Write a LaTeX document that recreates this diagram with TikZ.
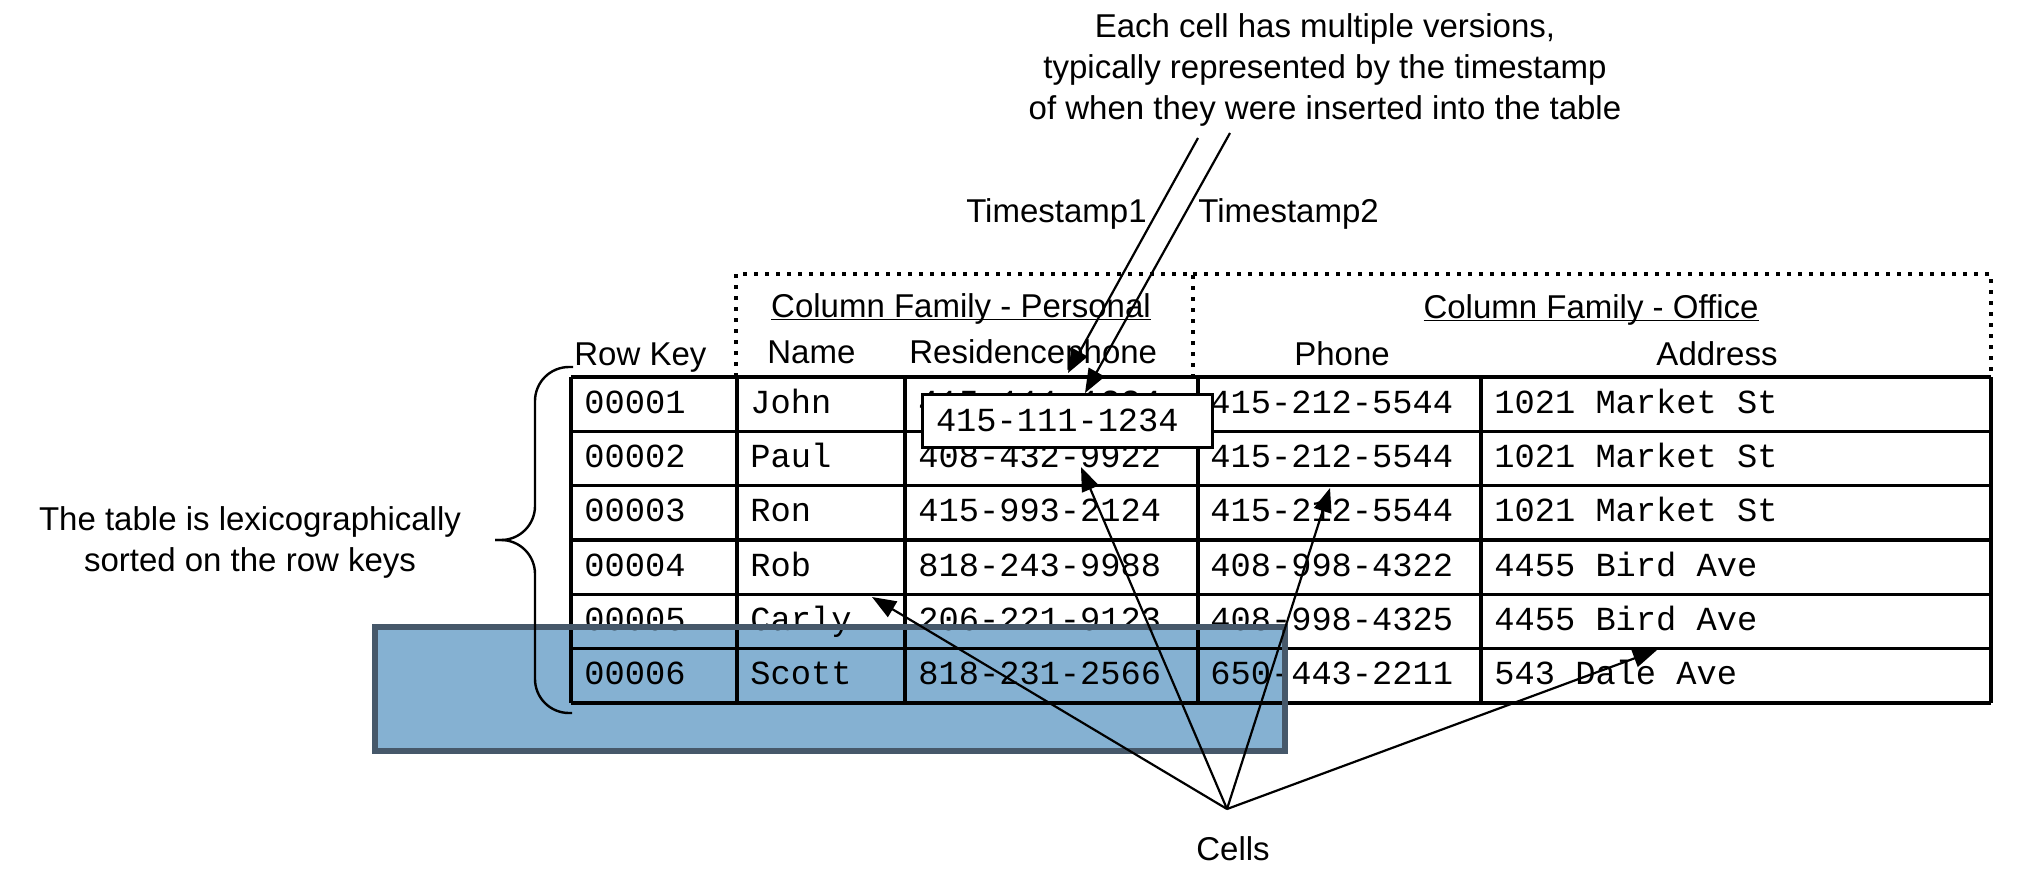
\documentclass[tikz,border=0pt]{standalone}
\usepackage{fontspec}
\setmainfont{Liberation Sans}
\newfontfamily\cellfont{Liberation Mono}
\usetikzlibrary{arrows.meta}

\definecolor{scanfill}{RGB}{133,177,210}
\definecolor{scanedge}{RGB}{70,88,106}

\begin{document}
\begin{tikzpicture}[x=0.5pt, y=-0.5pt,
    note/.style={font=\fontsize{16.5}{20.5}\selectfont, inner sep=0pt},
    head/.style={note, anchor=base},
    entry/.style={font=\cellfont\fontsize{16.85}{20}\selectfont, inner sep=0pt, anchor=base west},
    tableline/.style={line width=1.6pt},
    famline/.style={line width=1.6pt, dash pattern=on 2pt off 3.5pt},
    pointer/.style={-{Triangle[length=12pt,width=9pt]}, line width=1.1pt}]
    \useasboundingbox (0,0) rectangle (2018,878);

    \fill[scanfill] (372,624) rectangle (1288,754);

    \foreach \i in {0,...,6}
        \draw[tableline] (571,377+54.33*\i) -- (1991,377+54.33*\i);
    \foreach \x in {571,737,905,1198,1481,1991}
        \draw[tableline] (\x,377) -- (\x,703);

    \foreach \rkey/\rname/\rhome/\rwork/\raddr [count=\r] in {
        00001/John/415-111-1234/415-212-5544/1021 Market St,
        00002/Paul/408-432-9922/415-212-5544/1021 Market St,
        00003/Ron/415-993-2124/415-212-5544/1021 Market St,
        00004/Rob/818-243-9988/408-998-4322/4455 Bird Ave,
        00005/Carly/206-221-9123/408-998-4325/4455 Bird Ave,
        00006/Scott/818-231-2566/650-443-2211/543 Dale Ave} {
        \node[entry] (key\r)  at (584,359+54.33*\r) {\rkey};
        \node[entry] (name\r) at (750,359+54.33*\r) {\rname};
        \node[entry] (home\r) at (918,359+54.33*\r) {\rhome};
        \node[entry] (work\r) at (1210,359+54.33*\r) {\rwork};
        \node[entry] (addr\r) at (1494,359+54.33*\r) {\raddr};
    }

    \draw[scanedge, line width=3pt] (375,627) rectangle (1285,751);

    \draw[famline] (736,377) -- (736,274) -- (1193,274) -- (1193,377);
    \draw[famline] (1193,274) -- (1991,274) -- (1991,377);
    \node[head] (personal) at (961,317) {\underline{\smash{Column Family - Personal}}};
    \node[head] (office) at (1591,318) {\underline{\smash{Column Family - Office}}};

    \node[head, anchor=base west] (rowkey) at (574,365) {Row Key};
    \node[head, anchor=base west] (namehd) at (767,363) {Name};
    \node[head, anchor=base west] (homehd) at (909,363) {Residencephone};
    \node[head] (workhd) at (1342,365) {Phone};
    \node[head] (addrhd) at (1717,365) {Address};

    \draw[line width=1.2pt, rounded corners=17pt] (573,367) -- (535,367) -- (535,540) -- (495,540);
    \draw[line width=1.2pt, rounded corners=17pt] (495,540) -- (535,540) -- (535,713) -- (572,713);
    \node[note, align=center] (sorted) at (250,542) {The table is lexicographically\\sorted on the row keys};

    \node[draw, fill=white, line width=1.5pt, inner xsep=7pt, text width=131pt,
          minimum height=26.5pt, font=\cellfont\fontsize{16.85}{20}\selectfont] (latest) at (1067,420.5) {415-111-1234};

    \node[note, align=center] (versions) at (1325,70) {Each cell has multiple versions,\\typically represented by the timestamp\\of when they were inserted into the table};
    \node[head, anchor=base east] (stamp1) at (1147,222) {Timestamp1};
    \node[head, anchor=base west] (stamp2) at (1198,222) {Timestamp2};
    \coordinate (from1) at (1198,138);
    \coordinate (from2) at (1230,133);
    \coordinate (to1) at (1068,373);
    \coordinate (to2) at (1085,393);
    \draw[pointer] (from1) -- (to1);
    \draw[pointer] (from2) -- (to2);

    \node[head] (cells) at (1233,860) {Cells};
    \coordinate (hub) at (1227,809);
    \coordinate (toName) at (872,597);
    \coordinate (toHome) at (1081,467);
    \coordinate (toWork) at (1330,488);
    \coordinate (toAddr) at (1657,650);
    \foreach \t in {toName,toHome,toWork,toAddr}
        \draw[pointer] (hub) -- (\t);
\end{tikzpicture}
\end{document}
